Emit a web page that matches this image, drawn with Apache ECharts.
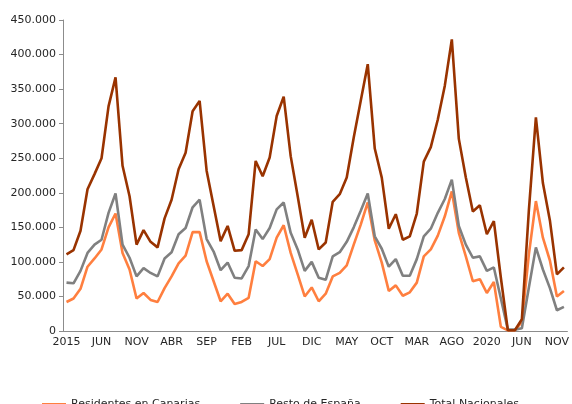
<!DOCTYPE html>
<html>
<head>
<meta charset="utf-8">
<script src="https://cdn.jsdelivr.net/npm/echarts@6/dist/echarts.min.js"></script>
<style>
  html, body { margin: 0; padding: 0; background: #fff; }
  #main { width: 572px; height: 404px; }
</style>
</head>
<body>
<div id="main"></div>
<script>
// meses: enero se rotula con el año
var meses = ['ENE','FEB','MAR','ABR','MAY','JUN','JUL','AGO','SEP','OCT','NOV','DIC'];
var anios = [2015, 2016, 2017, 2018, 2019, 2020];
var categorias = [];
anios.forEach(function (a) {
    meses.forEach(function (m, k) {
        categorias.push(k === 0 ? String(a) : m);
    });
});

// valores (miles de viajeros)
var residentes = [
    42, 47, 61, 93, 105, 118, 150, 170, 113, 89, 47, 55,
    45, 42, 62, 79, 98, 109, 143, 143, 101, 72, 43, 54,
    39, 42, 48, 101, 94, 104, 135, 153, 113, 82, 50, 63,
    43, 54, 79, 84, 95, 125, 154, 186, 131, 99, 58, 66,
    51, 56, 70, 108, 118, 138, 166, 202, 142, 108, 72, 75,
    55, 71, 6, 1, 1, 13, 111, 188, 135, 102, 50, 58
];
var restoEspana = [
    70, 69, 87, 113, 125, 132, 171, 199, 125, 106, 79, 91,
    84, 79, 105, 114, 140, 149, 179, 190, 133, 115, 88, 99,
    77, 76, 94, 147, 133, 149, 176, 186, 142, 118, 87, 100,
    77, 74, 108, 114, 129, 150, 174, 199, 137, 119, 93, 104,
    80, 80, 104, 137, 148, 171, 191, 219, 152, 125, 106, 108,
    87, 92, 47, 2, 2, 4, 63, 121, 89, 62, 30, 35
];
var totalNacionales = [
    111, 117, 145, 205, 227, 250, 325, 367, 239, 195, 125, 146,
    129, 121, 163, 190, 234, 258, 318, 333, 232, 181, 130, 152,
    116, 117, 140, 246, 224, 251, 311, 339, 253, 195, 135, 161,
    118, 128, 187, 198, 222, 280, 333, 386, 264, 222, 148, 169,
    132, 137, 170, 245, 266, 306, 355, 422, 278, 222, 173, 182,
    140, 159, 77, 1, 1, 17, 175, 309, 214, 160, 82, 92
];

function aUnidades(arr) {
    return arr.map(function (v) { return v * 1000; });
}

var myChart = echarts.init(document.getElementById('main'));

var fuente = 'DejaVu Sans';
var colorTexto = '#262626';
var colorEje = '#8c8c8c';

var option = {
    animation: false,
    textStyle: { fontFamily: fuente },
    grid: {
        left: 63,
        right: 2,
        top: 20,
        bottom: 73
    },
    legend: {
        left: 37,
        top: 394,
        itemGap: 40,
        itemWidth: 24,
        itemHeight: 3,
        icon: 'rect',
        textStyle: { fontFamily: fuente, fontSize: 11, color: colorTexto },
        data: ['Residentes en Canarias', 'Resto de España', 'Total Nacionales']
    },
    xAxis: {
        type: 'category',
        data: categorias,
        boundaryGap: true,
        axisLine: { lineStyle: { color: colorEje, width: 1 } },
        axisTick: { interval: 0, length: 4, lineStyle: { color: colorEje } },
        axisLabel: {
            interval: 4,
            color: colorTexto,
            fontSize: 11,
            fontFamily: fuente,
            margin: 6
        }
    },
    yAxis: {
        type: 'value',
        min: 0,
        max: 450000,
        interval: 50000,
        splitLine: { show: false },
        axisLine: { show: true, lineStyle: { color: colorEje, width: 1 } },
        axisTick: { show: true, length: 4, lineStyle: { color: colorEje } },
        axisLabel: {
            color: colorTexto,
            fontSize: 11,
            fontFamily: fuente,
            margin: 7,
            formatter: function (v) {
                return String(v).replace(/\B(?=(\d{3})+(?!\d))/g, '.');
            }
        }
    },
    series: [
        {
            name: 'Residentes en Canarias',
            type: 'line',
            data: aUnidades(residentes),
            showSymbol: false,
            color: '#ff7f3f',
            lineStyle: { width: 2.6, color: '#ff7f3f' }
        },
        {
            name: 'Resto de España',
            type: 'line',
            data: aUnidades(restoEspana),
            showSymbol: false,
            color: '#808080',
            lineStyle: { width: 2.6, color: '#808080' }
        },
        {
            name: 'Total Nacionales',
            type: 'line',
            data: aUnidades(totalNacionales),
            showSymbol: false,
            color: '#993300',
            lineStyle: { width: 2.6, color: '#993300' }
        }
    ]
};
myChart.setOption(option);
</script>
</body>
</html>
